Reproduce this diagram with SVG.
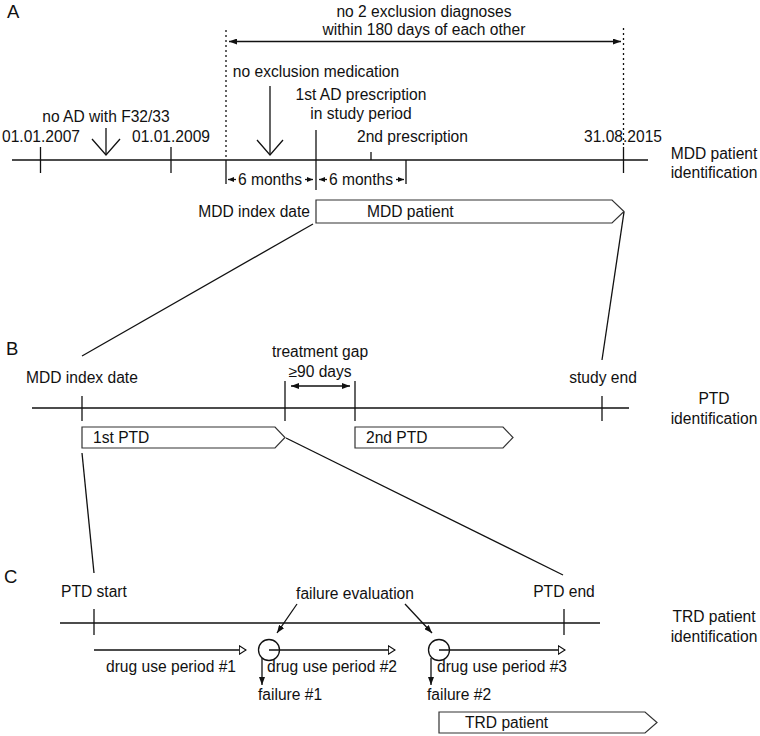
<svg xmlns="http://www.w3.org/2000/svg" width="760" height="736" viewBox="0 0 760 736">
<style>
.t{font-family:"Liberation Sans",Arial,sans-serif;font-size:15.6px;fill:#111}
.p{font-family:"Liberation Sans",Arial,sans-serif;font-size:18.5px;fill:#111}
.m{text-anchor:middle}
.e{text-anchor:end}
.ln{stroke:#111;stroke-width:1.3;fill:none}
.dot{stroke:#111;stroke-width:1.3;fill:none;stroke-dasharray:2 3}
.box{stroke:#333;stroke-width:1.2;fill:#fff}
</style>
<defs>
<marker id="ah" viewBox="0 0 8 6" refX="8" refY="3" markerWidth="8" markerHeight="6" orient="auto-start-reverse" markerUnits="userSpaceOnUse"><path d="M0,0 L8,3 L0,6 z" fill="#111"/></marker>
<marker id="ahs" viewBox="0 0 6 6" refX="6" refY="3" markerWidth="6" markerHeight="6" orient="auto-start-reverse" markerUnits="userSpaceOnUse"><path d="M0,0.5 L6,3 L0,5.5 z" fill="#111"/></marker>
<marker id="open" viewBox="0 0 8 10" refX="7.4" refY="5" markerWidth="8" markerHeight="10" orient="auto" markerUnits="userSpaceOnUse"><path d="M0.7,0.7 L7.4,5 L0.7,9.3 z" fill="#fff" stroke="#111" stroke-width="1.1"/></marker>
</defs>

<!-- Panel A -->
<g id="panelA">
<text class="p" x="7" y="18">A</text>
<g id="A-timeline">
<line class="ln" x1="12" y1="160" x2="648" y2="160"/>
<line class="ln" x1="40.5" y1="147" x2="40.5" y2="173"/>
<line class="ln" x1="171" y1="147" x2="171" y2="173"/>
<line class="ln" x1="226" y1="160" x2="226" y2="184"/>
<line class="ln" x1="316" y1="130" x2="316" y2="190"/>
<line class="ln" x1="371" y1="152" x2="371" y2="160"/>
<line class="ln" x1="406" y1="160" x2="406" y2="184"/>
<line class="ln" x1="623.5" y1="147" x2="623.5" y2="173"/>
<line class="dot" x1="226" y1="30" x2="226" y2="160"/>
<line class="dot" x1="623.5" y1="28" x2="623.5" y2="147"/>
</g>
<g id="A-dates">
<text class="t" x="2" y="142">01.01.2007</text>
<text class="t" x="132" y="142">01.01.2009</text>
<text class="t" x="584" y="142">31.08.2015</text>
</g>
<g id="A-noAD">
<text class="t m" x="106" y="122">no AD with F32/33</text>
<line class="ln" x1="106" y1="128" x2="106" y2="155"/>
<polyline class="ln" points="92,139 106,155 120,139"/>
</g>
<g id="A-noexcl">
<text class="t m" x="316" y="77">no exclusion medication</text>
<line class="ln" x1="270" y1="86" x2="270" y2="155"/>
<polyline class="ln" points="257,140 270,155 283,140"/>
</g>
<g id="A-exdiag">
<text class="t m" x="424" y="17">no 2 exclusion diagnoses</text>
<text class="t m" x="424" y="35">within 180 days of each other</text>
<line class="ln" x1="229" y1="41.5" x2="621" y2="41.5" marker-start="url(#ah)" marker-end="url(#ah)"/>
</g>
<g id="A-first">
<text class="t m" x="361" y="100">1st AD prescription</text>
<text class="t m" x="361" y="119">in study period</text>
</g>
<text class="t" x="357" y="142">2nd prescription</text>
<g id="A-6m">
<text class="t m" x="270" y="185">6 months</text>
<line class="ln" x1="236" y1="179.5" x2="228" y2="179.5" marker-end="url(#ahs)"/>
<line class="ln" x1="305" y1="179.5" x2="313" y2="179.5" marker-end="url(#ahs)"/>
<text class="t m" x="361" y="185">6 months</text>
<line class="ln" x1="327" y1="179.5" x2="319" y2="179.5" marker-end="url(#ahs)"/>
<line class="ln" x1="396" y1="179.5" x2="404" y2="179.5" marker-end="url(#ahs)"/>
</g>
<g id="A-side">
<text class="t m" x="714" y="159">MDD patient</text>
<text class="t m" x="714" y="178">identification</text>
</g>
<g id="mdd-patient">
<text class="t e" x="310" y="217">MDD index date</text>
<polygon class="box" points="316,200 612,200 624,211.5 612,223 316,223"/>
<text class="t" x="367" y="217">MDD patient</text>
</g>
</g>

<!-- Panel B -->
<g id="panelB">
<text class="p" x="6" y="355">B</text>
<g id="B-timeline">
<line class="ln" x1="32" y1="408" x2="629" y2="408"/>
<line class="ln" x1="82" y1="396" x2="82" y2="421"/>
<line class="ln" x1="285" y1="381" x2="285" y2="421"/>
<line class="ln" x1="355" y1="381" x2="355" y2="421"/>
<line class="ln" x1="602" y1="396" x2="602" y2="421"/>
</g>
<text class="t" x="26" y="383">MDD index date</text>
<g id="B-gap">
<text class="t m" x="320" y="357">treatment gap</text>
<text class="t m" x="320" y="377">≥90 days</text>
<line class="ln" x1="291" y1="386" x2="350" y2="386" marker-start="url(#ah)" marker-end="url(#ah)"/>
</g>
<text class="t m" x="603" y="383">study end</text>
<g id="B-side">
<text class="t m" x="714" y="404">PTD</text>
<text class="t m" x="714" y="424">identification</text>
</g>
<g id="ptd1">
<polygon class="box" points="82,427 275,427 285,437.5 275,448 82,448"/>
<text class="t" x="93" y="443">1st PTD</text>
</g>
<g id="ptd2">
<polygon class="box" points="355,427 503,427 513,437.5 503,448 355,448"/>
<text class="t" x="366" y="443">2nd PTD</text>
</g>
</g>

<!-- Panel C -->
<g id="panelC">
<text class="p" x="4" y="583">C</text>
<g id="C-timeline">
<line class="ln" x1="60" y1="623" x2="600" y2="623"/>
<line class="ln" x1="94" y1="609" x2="94" y2="635"/>
<line class="ln" x1="564" y1="609" x2="564" y2="635"/>
</g>
<text class="t" x="61" y="597">PTD start</text>
<text class="t m" x="564" y="597">PTD end</text>
<text class="t m" x="355" y="599">failure evaluation</text>
<g id="C-side">
<text class="t m" x="714" y="622">TRD patient</text>
<text class="t m" x="714" y="642">identification</text>
</g>
<g id="period1">
<line class="ln" x1="94" y1="650" x2="246" y2="650" marker-end="url(#open)"/>
<text class="t" x="106" y="672">drug use period #1</text>
</g>
<g id="eval1">
<circle class="ln" cx="269" cy="650" r="10.5"/>
<line class="ln" x1="262" y1="658" x2="262" y2="685" marker-end="url(#ah)"/>
<text class="t" x="258" y="700">failure #1</text>
</g>
<g id="period2">
<line class="ln" x1="269" y1="650" x2="395" y2="650" marker-end="url(#open)"/>
<text class="t" x="267" y="672">drug use period #2</text>
</g>
<g id="eval2">
<circle class="ln" cx="439" cy="650" r="10.5"/>
<line class="ln" x1="431" y1="658" x2="431" y2="685" marker-end="url(#ah)"/>
<text class="t" x="427" y="700">failure #2</text>
</g>
<g id="period3">
<line class="ln" x1="439" y1="650" x2="565" y2="650" marker-end="url(#open)"/>
<text class="t" x="437" y="672">drug use period #3</text>
</g>
<g id="trd-patient">
<polygon class="box" points="439,712 645,712 657,722.5 645,733 439,733"/>
<text class="t" x="465" y="728">TRD patient</text>
</g>
</g>

<!-- Connectors -->
<g id="connectors">
<line class="ln" x1="313" y1="224" x2="82" y2="356"/>
<line class="ln" x1="624" y1="212" x2="602" y2="360"/>
<line class="ln" x1="286" y1="438" x2="563" y2="575"/>
<line class="ln" x1="82" y1="453" x2="94" y2="573"/>
<line class="ln" x1="297" y1="604" x2="277" y2="633" marker-end="url(#ah)"/>
<line class="ln" x1="405" y1="604" x2="432" y2="633" marker-end="url(#ah)"/>
</g>
</svg>
